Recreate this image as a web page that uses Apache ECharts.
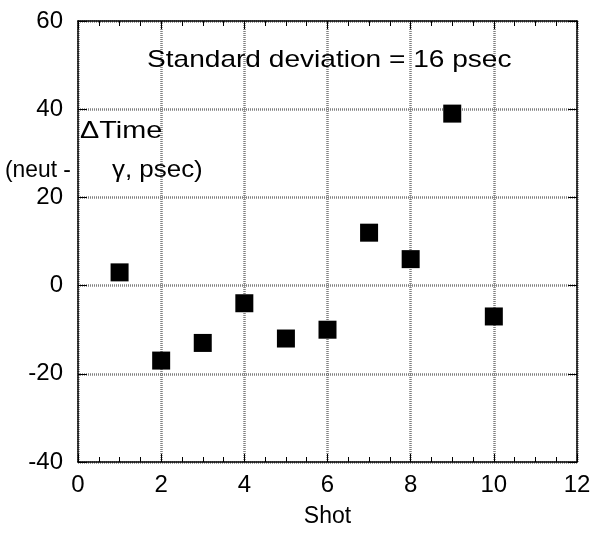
<!DOCTYPE html>
<html>
<head>
<meta charset="utf-8">
<script src="https://cdn.jsdelivr.net/npm/echarts@6/dist/echarts.min.js"></script>
<style>
  html, body { margin: 0; padding: 0; background: #fff; }
  #chart { width: 595px; height: 533px; }
</style>
</head>
<body>
<div id="chart"></div>
<script>
// values
var shots = [1, 2, 3, 4, 5, 6, 7, 8, 9, 10]
var deltaTime = [3, -17, -13, -4, -12, -10, 12, 6, 39, -7]
var xTicks = { min: 0, max: 12, interval: 2 }
var yTicks = { min: -40, max: 60, interval: 20 }

var points = shots.map(function (s, i) { return [s, deltaTime[i]] })

var font = 'Liberation Sans, Arial, sans-serif'
var gridLine = { show: true, lineStyle: { color: '#808080', width: 2.5, type: [1, 1] } }

var myChart = echarts.init(document.getElementById('chart'))
myChart.setOption({
  backgroundColor: '#fff',
  animation: false,
  grid: { left: 78, right: 18, top: 21, bottom: 71 },
  xAxis: [{
    type: 'value',
    min: xTicks.min,
    max: xTicks.max,
    interval: xTicks.interval,
    name: 'Shot',
    nameLocation: 'middle',
    nameGap: 43,
    nameTextStyle: { color: '#000', fontSize: 23, fontFamily: font },
    axisLine: { onZero: false, lineStyle: { color: '#000', width: 1.5 } },
    axisTick: { inside: true, length: 8, lineStyle: { color: '#000' } },
    minorTick: { show: true, splitNumber: 4, length: 5, lineStyle: { color: '#000' } },
    axisLabel: { color: '#000', fontSize: 24, fontFamily: font, margin: 11 },
    splitLine: gridLine
  }, {
    type: 'value',
    position: 'top',
    min: xTicks.min,
    max: xTicks.max,
    interval: xTicks.interval,
    axisLine: { show: true, onZero: false, lineStyle: { color: '#000', width: 1.5 } },
    axisTick: { show: true, inside: true, length: 8, lineStyle: { color: '#000' } },
    minorTick: { show: true, splitNumber: 4, length: 5, lineStyle: { color: '#000' } },
    axisLabel: { show: false },
    splitLine: { show: false }
  }],
  yAxis: [{
    type: 'value',
    min: yTicks.min,
    max: yTicks.max,
    interval: yTicks.interval,
    axisLine: { show: true, onZero: false, lineStyle: { color: '#000', width: 1.5 } },
    axisTick: { show: true, inside: true, length: 9, lineStyle: { color: '#000' } },
    axisLabel: { color: '#000', fontSize: 24, fontFamily: font, margin: 15 },
    splitLine: gridLine
  }, {
    type: 'value',
    position: 'right',
    min: yTicks.min,
    max: yTicks.max,
    interval: yTicks.interval,
    axisLine: { show: true, onZero: false, lineStyle: { color: '#000', width: 1.5 } },
    axisTick: { show: true, inside: true, length: 9, lineStyle: { color: '#000' } },
    axisLabel: { show: false },
    splitLine: { show: false }
  }],
  // the reference lettering is a bit wider than Liberation Sans, so stretch it
  graphic: [{
    type: 'text',
    x: 147,
    y: 48,
    z: 100,
    scaleX: 1.17,
    style: { text: 'Standard deviation = 16 psec', fill: '#000', font: '24px ' + font }
  }, {
    type: 'text',
    x: 80,
    y: 119,
    z: 100,
    scaleX: 1.2,
    style: { text: '\u0394Time', fill: '#000', font: '24px ' + font }
  }, {
    type: 'text',
    x: 5,
    y: 158,
    z: 100,
    scaleX: 0.95,
    style: { text: '(neut -', fill: '#000', font: '24px ' + font }
  }, {
    type: 'text',
    x: 112,
    y: 158,
    z: 100,
    scaleX: 1.08,
    style: { text: '\u03b3, psec)', fill: '#000', font: '24px ' + font }
  }],
  series: [{
    type: 'scatter',
    data: points,
    symbol: 'rect',
    symbolSize: 18,
    itemStyle: { color: '#000', opacity: 1 }
  }]
})
</script>
</body>
</html>
